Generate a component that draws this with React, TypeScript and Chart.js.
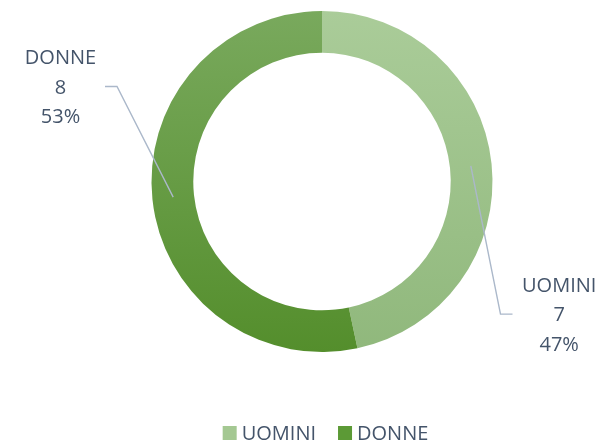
import React, { useEffect, useRef } from "react";
import { Chart, registerables } from "chart.js";

Chart.register(...registerables);

const categories = ["UOMINI", "DONNE"];
const values = [7, 8];
const topColors = ["#AACC99", "#79A95D"];
const bottomColors = ["#90B87C", "#548E2C"];
const legendColors = ["#A4C892", "#5C9A36"];

const FONT = "20px 'Open Sans'";
const TEXT_COLOR = "#44546A";
const LINE_COLOR = "#ABB8CA";

// label layout (style only): elbow offset from doughnut centre, direction, text offset
const labelLayout = [
  { dx: 178.5, dy: 132.6, dir: 1, textOff: 46.7 },
  { dx: -205, dy: -95, dir: -1, textOff: 44.5 },
];

const outLabels = {
  id: "outLabels",
  afterDatasetsDraw(chart: any) {
    const ctx = chart.ctx;
    const meta = chart.getDatasetMeta(0);
    const total = values.reduce((a, b) => a + b, 0);
    meta.data.forEach((arc: any, i: number) => {
      const p = arc.tooltipPosition(false);
      const o = labelLayout[i];
      const ex = arc.x + o.dx;
      const ey = arc.y + o.dy;
      const hx = ex + o.dir * 12;
      ctx.save();
      ctx.strokeStyle = LINE_COLOR;
      ctx.lineWidth = 1.4;
      ctx.beginPath();
      ctx.moveTo(p.x, p.y);
      ctx.lineTo(ex, ey);
      ctx.lineTo(hx, ey);
      ctx.stroke();
      const tx = hx + o.dir * o.textOff;
      ctx.font = FONT;
      ctx.fillStyle = TEXT_COLOR;
      ctx.textAlign = "center";
      ctx.textBaseline = "middle";
      const lines = [
        categories[i],
        String(values[i]),
        Math.round((values[i] / total) * 100) + "%",
      ];
      lines.forEach((t, k) => ctx.fillText(t, tx, ey + 1.5 + (k - 1) * 29.4));
      ctx.restore();
    });
  },
  afterDraw(chart: any) {
    const ctx = chart.ctx;
    const area = chart.chartArea;
    ctx.save();
    ctx.font = FONT;
    const box = 14;
    const gap = 5;
    const spacing = 22;
    const widths = categories.map((c) => ctx.measureText(c).width);
    const total =
      widths.reduce((a, w) => a + box + gap + w, 0) + spacing * (categories.length - 1);
    let x = (area.left + area.right) / 2 + 3.5 - total / 2;
    const y = 433;
    categories.forEach((c, i) => {
      ctx.fillStyle = legendColors[i];
      ctx.fillRect(x, y - box / 2, box, box);
      ctx.fillStyle = TEXT_COLOR;
      ctx.textAlign = "left";
      ctx.textBaseline = "middle";
      ctx.fillText(c, x + box + gap, y + 1);
      x += box + gap + widths[i] + spacing;
    });
    ctx.restore();
  },
};

export default function App() {
  const ref = useRef<HTMLCanvasElement>(null);
  useEffect(() => {
    if (!ref.current) return;
    const chart = new Chart(ref.current, {
      type: "doughnut",
      data: {
        labels: categories,
        datasets: [
          {
            data: values,
            borderWidth: 0,
            backgroundColor: (c: any) => {
              const i = c.dataIndex;
              const area = c.chart.chartArea;
              if (!area) return topColors[i];
              const g = c.chart.ctx.createLinearGradient(0, area.top, 0, area.bottom);
              g.addColorStop(0, topColors[i]);
              g.addColorStop(1, bottomColors[i]);
              return g;
            },
          },
        ],
      },
      options: {
        responsive: false,
        animation: false,
        cutout: "75.5%",
        layout: { padding: { left: 44, right: 0, top: 11, bottom: 90 } },
        plugins: {
          legend: { display: false },
          tooltip: { enabled: false },
        },
      },
      plugins: [outLabels],
    });
    return () => chart.destroy();
  }, []);
  return (
    <div style={{ position: "fixed", left: 0, top: 0, width: 600, height: 442, background: "#fff" }}>
      <canvas ref={ref} width={600} height={442} style={{ display: "block" }} />
    </div>
  );
}
